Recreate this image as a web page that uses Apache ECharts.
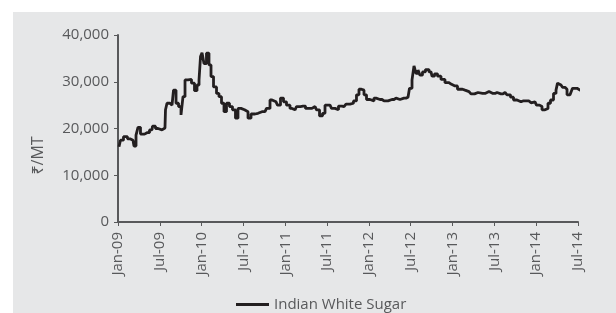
<html>
<head>
    <meta charset="utf-8">
    <script src="https://cdn.jsdelivr.net/npm/echarts@6/dist/echarts.min.js"></script>
</head>
<body style="margin:0">
<div id="main" style="width:616px;height:313px"></div>
<script>
    // months since Jan-09 and price in Rs/MT
    var weekMonth = [
        0.14, 0.57, 1.0, 1.72, 2.15, 2.44, 2.73, 3.01, 3.44, 4.16, 4.88, 5.02, 5.74, 6.31, 6.74,
        6.89, 7.17, 7.75, 8.18, 8.47, 8.90, 9.18, 9.47, 9.76, 10.33, 10.76, 11.19, 11.48, 11.77,
        11.91, 12.20, 12.48, 12.91, 13.20, 13.49, 13.92, 14.35, 14.63, 15.07, 15.35, 15.78, 16.21,
        16.64, 17.07, 17.36, 17.93, 18.37, 18.94, 19.23, 20.09, 20.66, 21.09, 21.52, 22.10, 22.67,
        23.10, 23.53, 23.96, 24.39, 24.97, 25.40, 25.83, 26.54, 27.26, 27.83, 28.27, 28.70, 29.13,
        29.56, 29.84, 30.42, 30.85, 31.42, 31.85, 32.43, 33.00, 33.57, 34.00, 34.43, 34.72, 35.15,
        35.44, 35.87, 36.44, 37.02, 37.59, 38.17, 38.74, 39.31, 39.89, 40.46, 41.03, 41.61, 42.04,
        42.33, 42.61, 42.90, 43.19, 43.47, 43.90, 44.33, 44.91, 45.20, 45.63, 46.06, 46.63, 47.20,
        47.78, 48.35, 49.07, 49.79, 50.36, 50.93, 51.37, 51.94, 52.66, 53.23, 53.80, 54.38, 54.95,
        55.53, 56.10, 56.53, 56.96, 57.53, 58.11, 58.68, 59.26, 59.83, 60.26, 60.69, 60.98, 61.55,
        61.84, 62.27, 62.70, 62.99, 63.13, 63.56, 63.99, 64.28, 64.57, 65.14, 65.28, 65.86, 66.29,
        66.86
    ];
    var price = [
        16100, 17500, 18250, 17800, 17500, 16250, 18600, 20250, 18800, 19100, 19700, 20500, 20000, 19700, 20100,
        24000, 25400, 25000, 28200, 25400, 24700, 22900, 26800, 30400, 30500, 29700, 28100, 29300, 30400,
        35400, 36200, 33900, 36100, 33600, 31100, 28900, 27500, 26800, 25400, 23600, 25400, 24700,
        24000, 22200, 24300, 24000, 23600, 22200, 23100, 23250, 23600, 23600, 24300, 26100, 25700,
        25000, 26500, 25700, 25000, 24300, 24000, 24700, 24800, 24300, 24300, 24700, 24000, 22700,
        23250, 25000, 25000, 24300, 24000, 24800, 24700, 25200, 25400, 25900, 27200, 28400, 28200,
        27200, 26200, 25900, 26500, 26200, 25900, 25900, 26200, 26500, 26200, 26500, 26700, 28600,
        30400, 33400, 31800, 32500, 31400, 32100, 32600, 32100, 31200, 31700, 31200, 30500, 29800,
        29500, 29100, 28400, 28200, 27900, 27400, 27700, 27500, 27500, 27900, 27500, 27700, 27400,
        27700, 27200, 26700, 26100, 25700, 25900, 25900, 25500, 25700, 25000, 24700, 24000, 24300,
        25400, 26100, 27500, 28200, 29700, 29300, 28800, 28400, 27200, 27200, 28600, 28600, 28200,
        28000
    ];
    var tickLabels = ['Jan-09', 'Jul-09', 'Jan-10', 'Jul-10', 'Jan-11', 'Jul-11', 'Jan-12',
        'Jul-12', 'Jan-13', 'Jul-13', 'Jan-14', 'Jul-14'];

    var font = '"Open Sans", "Noto Sans", "DejaVu Sans", sans-serif';
    var grey = '#58595b';

    var chart = echarts.init(document.getElementById('main'));
    var option = {
        animation: false,
        backgroundColor: '#ffffff',
        textStyle: {fontFamily: font},
        graphic: [{
            type: 'rect',
            z: -10,
            silent: true,
            shape: {x: 13, y: 12, width: 603, height: 301},
            style: {fill: '#e6e7e8'}
        }],
        grid: {
            left: 118,
            right: 38,
            top: 35,
            bottom: 91
        },
        legend: {
            left: 231,
            top: 292,
            icon: 'rect',
            itemWidth: 33,
            itemHeight: 3,
            itemGap: 6,
            textStyle: {
                fontFamily: font,
                fontSize: 15,
                color: grey
            },
            data: ['Indian White Sugar']
        },
        xAxis: {
            type: 'value',
            min: 0,
            max: 66,
            interval: 6,
            splitLine: {show: false},
            axisLine: {lineStyle: {color: grey, width: 2}},
            axisTick: {length: 4, lineStyle: {color: grey, width: 1}},
            axisLabel: {
                rotate: 90,
                margin: 10,
                fontFamily: font,
                fontSize: 15,
                color: grey,
                formatter: function (v) {
                    return tickLabels[Math.round(v / 6)] || '';
                }
            }
        },
        yAxis: {
            type: 'value',
            min: 0,
            max: 40000,
            interval: 10000,
            name: '₹/MT',
            nameLocation: 'middle',
            nameGap: 72,
            nameTextStyle: {
                fontFamily: font,
                fontSize: 16,
                color: grey,
                padding: [0, 54, 0, 0]
            },
            splitLine: {show: false},
            axisLine: {show: true, lineStyle: {color: grey, width: 2}},
            axisTick: {show: true, length: 4, lineStyle: {color: grey, width: 1}},
            axisLabel: {
                margin: 9,
                fontFamily: font,
                fontSize: 15,
                color: grey,
                formatter: function (v) {
                    return v.toLocaleString('en-US');
                }
            }
        },
        series: [{
            name: 'Indian White Sugar',
            type: 'line',
            step: 'middle',
            showSymbol: false,
            clip: false,
            color: '#231f20',
            lineStyle: {width: 2.8, color: '#231f20'},
            data: weekMonth.map(function (m, i) {
                return [m, price[i]];
            })
        }]
    };
    chart.setOption(option);
</script>
</body>
</html>
